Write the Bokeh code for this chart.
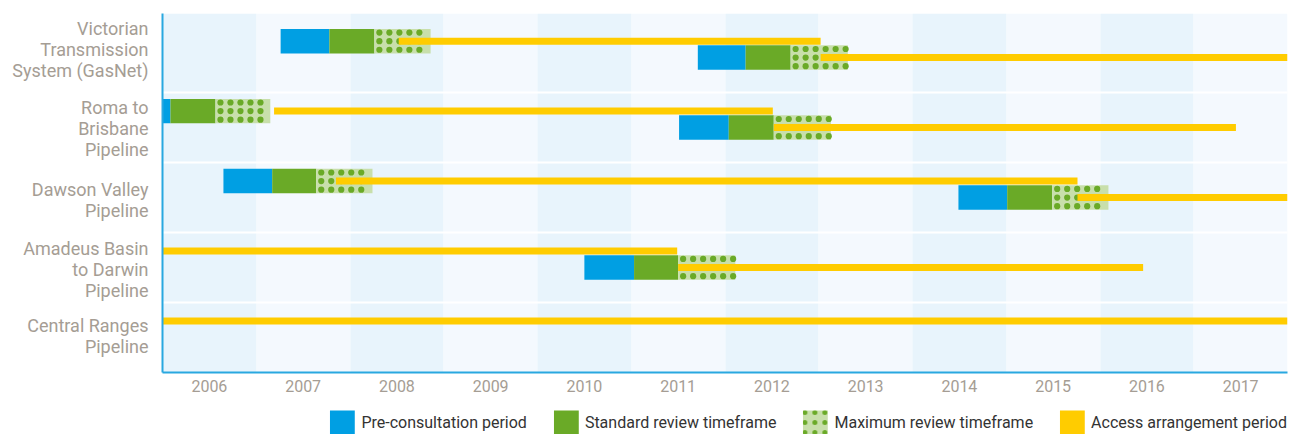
import numpy as np
from bokeh.plotting import figure
from bokeh.layouts import column
from bokeh.models import Range1d, FixedTicker, Legend, LegendItem, ColumnDataSource
from bokeh.embed import file_html
from bokeh.resources import INLINE

# ---------------- data ----------------
pipelines = [
    ["Victorian", "Transmission", "System (GasNet)"],
    ["Roma to", "Brisbane", "Pipeline"],
    ["Dawson Valley", "Pipeline"],
    ["Amadeus Basin", "to Darwin", "Pipeline"],
    ["Central Ranges", "Pipeline"],
]
years = list(range(2006, 2018))
year_labels = [str(y) for y in years]

# review processes (row = pipeline index, tier = 0 upper / 1 lower)
review_row = [0, 0, 1, 1, 2, 2, 3]
review_tier = [0, 1, 0, 1, 0, 1, 1]
pre_start = [2007.26, 2011.71, 2006.00, 2011.51, 2006.65, 2014.49, 2010.50]
std_start = [2007.78, 2012.22, 2006.085, 2012.04, 2007.17, 2015.01, 2011.03]
max_start = [2008.26, 2012.70, 2006.565, 2012.52, 2007.64, 2015.49, 2011.50]
max_end = [2008.86, 2013.31, 2007.15, 2013.13, 2008.24, 2016.09, 2012.11]

# access arrangement periods
aa_row = [0, 0, 1, 1, 2, 2, 3, 3, 4]
aa_tier = [0, 1, 0, 1, 0, 1, 0, 1, 0]
aa_start = [2008.52, 2013.02, 2007.19, 2012.52, 2007.85, 2015.76, 2006.00, 2011.50, 2006.00]
aa_end = [2013.02, 2018.00, 2012.51, 2017.45, 2015.76, 2018.00, 2011.49, 2016.46, 2018.00]

legend_labels = ["Pre-consultation period", "Standard review timeframe",
                 "Maximum review timeframe", "Access arrangement period"]

# ---------------- styles ----------------
BLUE = "#009fe3"
GREEN = "#6aaa27"
LIGHT_GREEN = "#c8dfab"
YELLOW = "#ffcc00"
BAND_A = "#e8f4fc"
BAND_B = "#f4f9fe"
GREY = "#a59d94"
AXIS_BLUE = "#29a8e0"
FONT = "Roboto"

tier_offset = [0.265, 0.5]
label_center = [0.39, 1.51, 2.54, 3.53, 4.48]
line_step = 0.3
bar_h = 0.35
aa_h = 0.1

n_rows = len(pipelines)
y_top = -0.13
FRAME_W, FRAME_H = 1125, 359

ry = [r + tier_offset[t] for r, t in zip(review_row, review_tier)]
ay = [r + tier_offset[t] for r, t in zip(aa_row, aa_tier)]
rev_src = ColumnDataSource(dict(y=ry, pre=pre_start, std=std_start, mx=max_start, end=max_end))
aa_src = ColumnDataSource(dict(y=ay, start=aa_start, end=aa_end))

x_range = Range1d(years[0], years[-1] + 1)

# dot texture for the "maximum review timeframe" boxes (10 px grid)
px_x = (years[-1] + 1 - years[0]) / FRAME_W
px_y = (n_rows - y_top) / FRAME_H
dot_x, dot_y = [], []
for yc, x0, x1 in zip(ry, max_start, max_end):
    xs = np.arange(x0 + 5 * px_x, x1 - 2 * px_x, 10 * px_x)
    for dy in (-8.6 * px_y, 0.0, 8.6 * px_y):
        dot_x.extend(xs.tolist())
        dot_y.extend([yc + dy] * len(xs))


def draw_bars(fig, hatched):
    r_pre = fig.hbar(y="y", left="pre", right="std", height=bar_h, source=rev_src,
                     fill_color=BLUE, line_color=None)
    r_std = fig.hbar(y="y", left="std", right="mx", height=bar_h, source=rev_src,
                     fill_color=GREEN, line_color=None)
    if hatched:
        r_max = fig.hbar(y="y", left="mx", right="end", height=bar_h, source=rev_src,
                         fill_color=LIGHT_GREEN, line_color=None,
                         hatch_pattern="dot", hatch_color=GREEN, hatch_scale=10,
                         hatch_weight=3.5)
    else:
        r_max = fig.hbar(y="y", left="mx", right="end", height=bar_h, source=rev_src,
                         fill_color=LIGHT_GREEN, line_color=None)
        fig.scatter(dot_x, dot_y, size=6.2, marker="circle",
                    fill_color=GREEN, line_color=None)
    r_aa = fig.hbar(y="y", left="start", right="end", height=aa_h, source=aa_src,
                    fill_color=YELLOW, line_color=None)
    return [r_pre, r_std, r_max, r_aa]


# ---------------- main chart ----------------
p = figure(width=1288, height=404, x_range=x_range,
           y_range=Range1d(n_rows, y_top),
           output_backend="svg", toolbar_location=None,
           min_border_left=162, min_border_right=1,
           min_border_top=13, min_border_bottom=32)
p.outline_line_color = None
p.grid.visible = False

band_colors = [BAND_A if i % 2 == 0 else BAND_B for i in range(len(years))]
p.vstrip(x0=years, x1=[y + 1 for y in years], fill_color=band_colors, line_color=None)
p.hspan(y=list(range(1, n_rows)), line_color="white", line_width=2)
draw_bars(p, hatched=False)

# y axis: one tick per text line
ticks, overrides = [], {}
for i, lines in enumerate(pipelines):
    n = len(lines)
    for k, txt in enumerate(lines):
        v = round(label_center[i] + (k - (n - 1) / 2) * line_step, 4)
        ticks.append(v)
        overrides[v] = txt
yax = p.yaxis[0]
yax.ticker = FixedTicker(ticks=ticks)
yax.major_label_overrides = overrides
yax.major_tick_line_color = None
yax.minor_tick_line_color = None
yax.major_tick_out = 0
yax.minor_tick_out = 0
yax.axis_line_color = AXIS_BLUE
yax.axis_line_width = 2
yax.major_label_standoff = 14
yax.major_label_text_font = FONT
yax.major_label_text_font_size = "18px"
yax.major_label_text_color = GREY

xt = [y + 0.5 for y in years]
xax = p.xaxis[0]
xax.ticker = FixedTicker(ticks=xt)
xax.major_label_overrides = {t: l for t, l in zip(xt, year_labels)}
xax.major_tick_line_color = None
xax.minor_tick_line_color = None
xax.major_tick_out = 0
xax.minor_tick_out = 0
xax.axis_line_color = AXIS_BLUE
xax.axis_line_width = 2
xax.major_label_standoff = 7
xax.major_label_text_font = FONT
xax.major_label_text_font_size = "16px"
xax.major_label_text_color = GREY

# ---------------- legend strip ----------------
lg = figure(width=1288, height=30, x_range=x_range, y_range=Range1d(100, 101),
            output_backend="svg", toolbar_location=None,
            min_border_left=162, min_border_right=1, min_border_top=0, min_border_bottom=0)
lg.outline_line_color = None
lg.grid.visible = False
lg.axis.visible = False
lg_renderers = draw_bars(lg, hatched=True)
legend = Legend(items=[LegendItem(label=l, renderers=[r]) for l, r in
                       zip(legend_labels, lg_renderers)],
                orientation="horizontal", location="top_right",
                glyph_width=31, glyph_height=31, label_standoff=4, spacing=23,
                padding=0, margin=0, border_line_color=None,
                background_fill_alpha=0, label_text_font=FONT,
                label_text_font_size="16px", label_text_color="#333333",
                label_height=36)
lg.add_layout(legend, "center")

layout = column(p, lg, spacing=0)
open("out.html", "w").write(file_html(layout, INLINE))
